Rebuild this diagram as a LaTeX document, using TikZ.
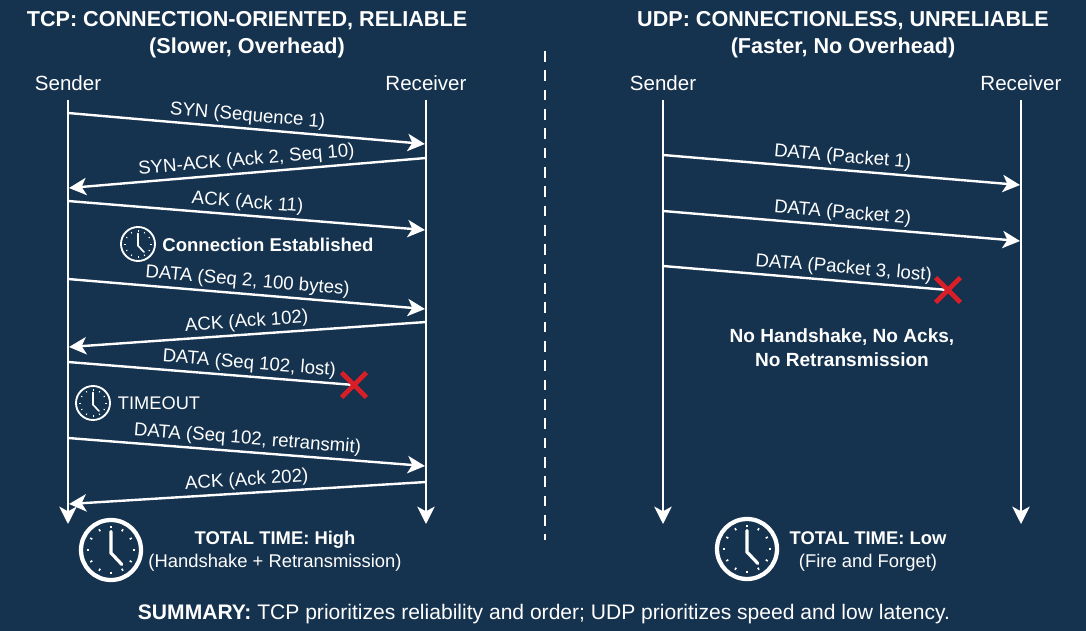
\documentclass[tikz,border=0pt]{standalone}
\usepackage{fontspec}
\setmainfont{Liberation Sans}
\usetikzlibrary{arrows.meta, shapes.misc}
\definecolor{deepnavy}{HTML}{15324E}
\definecolor{lostred}{HTML}{D81E26}
\tikzset{
	lifeline/.style={draw=white, line width=1.9pt, -{Stealth[length=13pt, width=13pt, inset=3.5pt]}},
	msgline/.style={draw=white, line width=1.8pt, -{Stealth[length=13pt, width=13pt, inset=3.5pt]}},
	lostline/.style={draw=white, line width=1.8pt},
	msglabel/.style={sloped, above, pos=0.5, inner sep=2pt, text=white, font=\fontsize{14}{16}\selectfont},
	titlelabel/.style={text=white, align=center, font=\fontsize{16.2}{20.3}\selectfont\bfseries},
	partylabel/.style={text=white, font=\fontsize{15.4}{18}\selectfont},
	notelabel/.style={text=white, align=center, font=\fontsize{13.8}{17.3}\selectfont},
	crossmark/.style={cross out, draw=lostred, line width=3.4pt, minimum width=15pt, minimum height=15pt, inner sep=0pt},
	clockicon/.pic={
		\draw[white, line width=\pgfkeysvalueof{/tikz/clockrim}] (0,0) circle (1);
		\foreach \a in {0,30,...,330}
			\draw[white, line width=\pgfkeysvalueof{/tikz/clocktick}] (\a:0.72) -- (\a:0.8);
		\draw[white, line width=\pgfkeysvalueof{/tikz/clockhand}, line cap=round] (0,-0.62) -- (0,0.1) -- (0.36,0.48);
	},
	clockrim/.initial=1.4pt, clocktick/.initial=0.7pt, clockhand/.initial=1.2pt,
}
\begin{document}
\begin{tikzpicture}[x=0.75pt, y=-0.75pt]
	\useasboundingbox[fill=deepnavy] (0,0) rectangle (1086,631);
	% headings
	\node[titlelabel] (tcptitle) at (247,35) {TCP: CONNECTION-ORIENTED, RELIABLE\\(Slower, Overhead)};
	\node[titlelabel] (udptitle) at (843,35) {UDP: CONNECTIONLESS, UNRELIABLE\\(Faster, No Overhead)};
	\draw[white, line width=1.5pt, dash pattern=on 8pt off 6.5pt] (545,51) -- (545,540);
	% lifelines
	\foreach \n/\x/\lbl in {tcpsend/68/Sender, tcprecv/426/Receiver, udpsend/663/Sender, udprecv/1021/Receiver} {
		\node[partylabel] (\n) at (\x,83) {\lbl};
		\coordinate (\n top) at (\x,100);
		\coordinate (\n end) at (\x,524);
		\draw[lifeline] (\n top) -- (\n end);
	}
	% TCP messages
	\foreach \n/\ya/\yb/\lbl in {1/113/144/{SYN (Sequence 1)}, 3/201/230/{ACK (Ack 11)}, 4/279/309/{DATA (Seq 2, 100 bytes)}, 7/438/466/{DATA (Seq 102, retransmit)}} {
		\coordinate (tcpa\n) at (68,\ya);
		\coordinate (tcpb\n) at (425,\yb);
		\draw[msgline] (tcpa\n) -- node[msglabel] (tcplbl\n) {\lbl} (tcpb\n);
	}
	\foreach \n/\ya/\yb/\lbl in {2/158/188/{SYN-ACK (Ack 2, Seq 10)}, 5/322/347/{ACK (Ack 102)}, 8/482/504/{ACK (Ack 202)}} {
		\coordinate (tcpa\n) at (426,\ya);
		\coordinate (tcpb\n) at (69,\yb);
		\draw[msgline] (tcpa\n) -- node[msglabel] (tcplbl\n) {\lbl} (tcpb\n);
	}
	\coordinate (tcpa6) at (68,362);
	\node[crossmark] (tcplost) at (354,385) {};
	\draw[lostline] (tcpa6) -- node[msglabel, pos=0.63] (tcplbl6) {DATA (Seq 102, lost)} (tcplost.center);
	\node[crossmark] (tcplost) at (354,385) {};
	% UDP messages
	\foreach \n/\ya/\yb/\lbl in {1/155/185/{DATA (Packet 1)}, 2/211/241/{DATA (Packet 2)}} {
		\coordinate (udpa\n) at (663,\ya);
		\coordinate (udpb\n) at (1020,\yb);
		\draw[msgline] (udpa\n) -- node[msglabel, pos=0.5] (udplbl\n) {\lbl} (udpb\n);
	}
	\coordinate (udpa3) at (663,266);
	\node[crossmark] (udplost) at (948,290) {};
	\draw[lostline] (udpa3) -- node[msglabel, pos=0.63] (udplbl3) {DATA (Packet 3, lost)} (udplost.center);
	\node[crossmark] (udplost) at (948,290) {};
	% clocks
	\pic[scale=17] at (138,244) {clockicon};
	\pic[scale=17] at (93,403) {clockicon};
	\pic[scale=30, clockrim=3.2pt, clocktick=1.2pt, clockhand=2.4pt] at (111,550) {clockicon};
	\pic[scale=30, clockrim=3.2pt, clocktick=1.2pt, clockhand=2.4pt] at (747,549) {clockicon};
	% notes
	\node[notelabel, font=\fontsize{13.9}{16}\selectfont\bfseries] (estnote) at (268,245) {Connection Established};
	\node[notelabel, font=\fontsize{13.7}{16}\selectfont] (timenote) at (159,403) {TIMEOUT};
	\node[notelabel, font=\fontsize{14.3}{18}\selectfont\bfseries] (udpnote) at (842,348) {No Handshake, No Acks,\\No Retransmission};
	\node[notelabel] (tcptotal) at (275,551.5) {\textbf{TOTAL TIME:} \textbf{High}\\(Handshake + Retransmission)};
	\node[notelabel] (udptotal) at (868,551.5) {\textbf{TOTAL TIME:} \textbf{Low}\\(Fire and Forget)};
	\node[notelabel, font=\fontsize{15.8}{18}\selectfont] (summary) at (544,614) {\textbf{SUMMARY:} TCP prioritizes reliability and order; UDP prioritizes speed and low latency.};
\end{tikzpicture}
\end{document}
